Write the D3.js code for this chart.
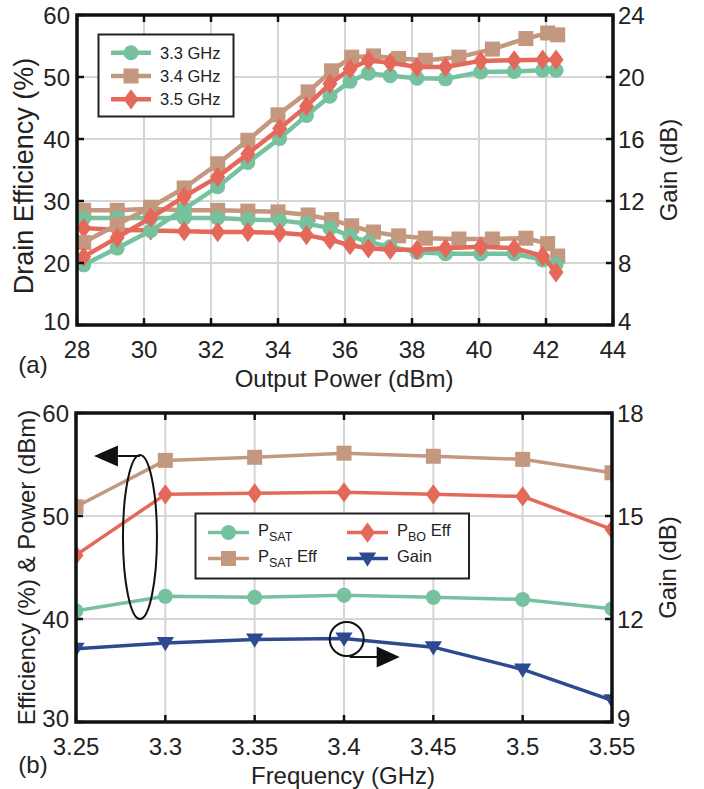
<!DOCTYPE html>
<html>
<head>
<meta charset="utf-8">
<script src="https://cdn.jsdelivr.net/npm/d3@7"></script>
<style>
  body { margin: 0; background: #fff; }
  svg { font-family: "Liberation Sans", Arial, sans-serif; }
</style>
</head>
<body>
<div id="viz"></div>
<script>
const width = 704;
const height = 789;

// ---- panel (a): efficiency and gain vs output power ----
const pout33 = [28.2, 29.2, 30.2, 31.2, 32.2, 33.1, 34.05, 34.85, 35.55, 36.15, 36.7, 37.35, 38.15, 39.0, 40.05, 41.05, 41.9, 42.3];
const pout34 = [28.2, 29.2, 30.2, 31.2, 32.2, 33.1, 34.0, 34.9, 35.6, 36.2, 36.85, 37.6, 38.4, 39.4, 40.4, 41.4, 42.05, 42.35];
const pout35 = pout33;
const eff33 = [19.7, 22.4, 25.2, 28.7, 32.3, 36.2, 40.1, 43.8, 46.9, 49.3, 50.6, 50.2, 49.8, 49.7, 50.8, 50.9, 51.1, 51.1];
const eff34 = [23.3, 26.2, 29.0, 32.1, 36.0, 39.8, 43.9, 47.6, 51.0, 53.2, 53.4, 53.0, 52.7, 53.2, 54.5, 56.2, 57.1, 56.8];
const eff35 = [21.0, 24.1, 27.3, 30.7, 33.9, 37.6, 41.7, 45.3, 48.9, 51.3, 52.7, 52.3, 51.6, 51.6, 52.6, 52.7, 52.8, 52.8];
const gain33 = [10.9, 10.9, 10.9, 10.9, 10.9, 10.8, 10.75, 10.55, 10.25, 9.75, 9.35, 9.05, 8.7, 8.6, 8.6, 8.6, 8.2, 7.9];
const gain34 = [11.4, 11.4, 11.5, 11.4, 11.4, 11.35, 11.3, 11.1, 10.8, 10.4, 10.0, 9.75, 9.6, 9.55, 9.55, 9.6, 9.25, 8.45];
const gain35 = [10.25, 10.15, 10.1, 10.05, 10.0, 10.0, 9.95, 9.8, 9.5, 9.15, 8.95, 8.85, 8.85, 8.95, 9.05, 8.95, 8.45, 7.4];
const xTicksA = [28, 30, 32, 34, 36, 38, 40, 42, 44];
const yTicksA = [10, 20, 30, 40, 50, 60];
const gTicksA = [4, 8, 12, 16, 20, 24];

// ---- panel (b): vs frequency ----
const freq = [3.25, 3.3, 3.35, 3.4, 3.45, 3.5, 3.55];
const psat = [40.8, 42.2, 42.1, 42.3, 42.1, 41.9, 41.0];
const psatEff = [50.9, 55.4, 55.7, 56.1, 55.8, 55.5, 54.2];
const pboEff = [46.2, 52.1, 52.2, 52.3, 52.1, 51.9, 48.7];
const gainB = [11.13, 11.3, 11.4, 11.43, 11.18, 10.53, 9.63];
const xTicksB = [3.25, 3.3, 3.35, 3.4, 3.45, 3.5, 3.55];
const yTicksB = [30, 40, 50, 60];
const gTicksB = [9, 12, 15, 18];

const colors = { green: '#76c19e', brown: '#c4977f', red: '#e4695a', blue: '#2e4a8e' };

const svg = d3.select('#viz').append('svg')
  .attr('width', width).attr('height', height);

// marker shapes drawn around a pixel position
const marker = (g, shape, x, y, color, s) => {
  if (shape === 'circle') {
    g.append('circle').attr('cx', x).attr('cy', y).attr('r', s).attr('fill', color);
  } else if (shape === 'square') {
    g.append('rect').attr('x', x - s).attr('y', y - s).attr('width', 2 * s).attr('height', 2 * s).attr('fill', color);
  } else if (shape === 'diamond') {
    g.append('path').attr('d', `M${x},${y - s * 1.35}L${x + s},${y}L${x},${y + s * 1.35}L${x - s},${y}Z`).attr('fill', color);
  } else if (shape === 'triangle') {
    g.append('path').attr('d', `M${x - s * 1.15},${y - s * 0.8}L${x + s * 1.15},${y - s * 0.8}L${x},${y + s * 1.1}Z`).attr('fill', color);
  }
};

const drawPanel = (cfg) => {
  const { left, right, top, bottom } = cfg.box;
  const x = d3.scaleLinear().domain(cfg.xDomain).range([left, right]);
  const y = d3.scaleLinear().domain(cfg.yDomain).range([bottom, top]);
  const y2 = d3.scaleLinear().domain(cfg.gDomain).range([bottom, top]);

  const g = svg.append('g');
  const clipId = 'clip-' + cfg.name;
  g.append('clipPath').attr('id', clipId)
    .append('rect').attr('x', left).attr('y', top).attr('width', right - left).attr('height', bottom - top);

  // grid
  g.append('g').selectAll('line').data(cfg.xTicks.slice(1, -1)).join('line')
    .attr('x1', d => x(d)).attr('x2', d => x(d)).attr('y1', top).attr('y2', bottom)
    .attr('stroke', '#d6d6d6').attr('stroke-width', 2);
  g.append('g').selectAll('line').data(cfg.yTicks.slice(1, -1)).join('line')
    .attr('y1', d => y(d)).attr('y2', d => y(d)).attr('x1', left).attr('x2', right)
    .attr('stroke', '#d6d6d6').attr('stroke-width', 2);

  // series
  const plot = g.append('g').attr('clip-path', `url(#${clipId})`);
  cfg.series.forEach(s => {
    const sc = s.axis === 'right' ? y2 : y;
    const pts = s.xs.map((v, i) => [x(v), sc(s.ys[i])]);
    plot.append('path').attr('d', d3.line()(pts))
      .attr('fill', 'none').attr('stroke', s.color).attr('stroke-width', cfg.lineWidth)
      .attr('stroke-linejoin', 'round');
    const mg = plot.append('g');
    pts.forEach(p => marker(mg, s.shape, p[0], p[1], s.color, cfg.markerSize));
  });

  // frame with inward ticks
  const tick = 7;
  const fr = g.append('g').attr('stroke', '#111').attr('stroke-width', 2.5);
  cfg.xTicks.forEach(t => {
    fr.append('line').attr('x1', x(t)).attr('x2', x(t)).attr('y1', bottom).attr('y2', bottom - tick);
    fr.append('line').attr('x1', x(t)).attr('x2', x(t)).attr('y1', top).attr('y2', top + tick);
  });
  cfg.yTicks.forEach(t => {
    fr.append('line').attr('x1', left).attr('x2', left + tick).attr('y1', y(t)).attr('y2', y(t));
  });
  cfg.gTicks.forEach(t => {
    fr.append('line').attr('x1', right).attr('x2', right - tick).attr('y1', y2(t)).attr('y2', y2(t));
  });
  g.append('rect').attr('x', left).attr('y', top).attr('width', right - left).attr('height', bottom - top)
    .attr('fill', 'none').attr('stroke', '#111').attr('stroke-width', 3.5);

  // tick labels (lowest y labels lifted a little so they clear the x labels)
  const fs = 24;
  g.append('g').selectAll('text').data(cfg.xTicks).join('text')
    .attr('x', d => x(d)).attr('y', bottom + 24)
    .attr('text-anchor', 'middle').attr('dominant-baseline', 'central')
    .attr('font-size', fs).attr('fill', '#222').text(cfg.xFormat);
  g.append('g').selectAll('text').data(cfg.yTicks).join('text')
    .attr('x', left - 7).attr('y', (d, i) => y(d) - (i === 0 ? 4 : 0))
    .attr('text-anchor', 'end').attr('dominant-baseline', 'central')
    .attr('font-size', fs).attr('fill', '#222').text(d => d);
  g.append('g').selectAll('text').data(cfg.gTicks).join('text')
    .attr('x', right + 5).attr('y', (d, i) => y2(d) - (i === 0 ? 4 : 0))
    .attr('text-anchor', 'start').attr('dominant-baseline', 'central')
    .attr('font-size', fs).attr('fill', '#222').text(d => d);

  // axis titles
  g.append('text').attr('x', (left + right) / 2 - 1).attr('y', bottom + 53)
    .attr('text-anchor', 'middle').attr('dominant-baseline', 'central')
    .attr('font-size', 24).attr('fill', '#222').text(cfg.xLabel);
  g.append('text').attr('transform', `translate(${cfg.yLabelX},${(top + bottom) / 2 + cfg.yLabelDy}) rotate(-90)`)
    .attr('text-anchor', 'middle').attr('dominant-baseline', 'central')
    .attr('font-size', cfg.yLabelSize).attr('fill', '#222').text(cfg.yLabel);
  g.append('text').attr('transform', `translate(${right + 55},${(top + bottom) / 2})  rotate(-90)`)
    .attr('text-anchor', 'middle').attr('dominant-baseline', 'central')
    .attr('font-size', 24).attr('fill', '#222').text('Gain (dB)');
  g.append('text').attr('x', 33).attr('y', bottom + cfg.tagDy)
    .attr('text-anchor', 'middle').attr('dominant-baseline', 'central')
    .attr('font-size', 24).attr('fill', '#222').text(cfg.tag);

  return { x, y, y2, g };
};

// panel (a)
const pa = drawPanel({
  name: 'a',
  box: { left: 77, right: 613, top: 15, bottom: 325 },
  xDomain: [28, 44], yDomain: [10, 60], gDomain: [4, 24],
  xTicks: xTicksA, yTicks: yTicksA, gTicks: gTicksA,
  xFormat: d => d,
  xLabel: 'Output Power (dBm)', yLabel: 'Drain Efficiency (%)', yLabelX: 24, yLabelDy: 6, yLabelSize: 27,
  tag: '(a)', tagDy: 39,
  lineWidth: 4.5, markerSize: 7.5,
  series: [
    { xs: pout34, ys: gain34, axis: 'right', color: colors.brown, shape: 'square' },
    { xs: pout33, ys: gain33, axis: 'right', color: colors.green, shape: 'circle' },
    { xs: pout35, ys: gain35, axis: 'right', color: colors.red, shape: 'diamond' },
    { xs: pout33, ys: eff33, axis: 'left', color: colors.green, shape: 'circle' },
    { xs: pout34, ys: eff34, axis: 'left', color: colors.brown, shape: 'square' },
    { xs: pout35, ys: eff35, axis: 'left', color: colors.red, shape: 'diamond' }
  ]
});

// legend (a)
const legA = [
  { label: '3.3 GHz', color: colors.green, shape: 'circle' },
  { label: '3.4 GHz', color: colors.brown, shape: 'square' },
  { label: '3.5 GHz', color: colors.red, shape: 'diamond' }
];
const la = svg.append('g');
la.append('rect').attr('x', 98.5).attr('y', 34.5).attr('width', 135).attr('height', 82)
  .attr('fill', '#fff').attr('stroke', '#222').attr('stroke-width', 2);
legA.forEach((d, i) => {
  const cy = 52.7 + i * 23.3;
  la.append('line').attr('x1', 111).attr('x2', 151).attr('y1', cy).attr('y2', cy)
    .attr('stroke', d.color).attr('stroke-width', 4.5);
  marker(la, d.shape, 131, cy, d.color, 7.5);
  la.append('text').attr('x', 160).attr('y', cy).attr('dominant-baseline', 'central')
    .attr('font-size', 16.5).attr('fill', '#222').text(d.label);
});

// panel (b)
const pb = drawPanel({
  name: 'b',
  box: { left: 76, right: 612, top: 413, bottom: 722 },
  xDomain: [3.25, 3.55], yDomain: [30, 60], gDomain: [9, 18],
  xTicks: xTicksB, yTicks: yTicksB, gTicks: gTicksB,
  xFormat: d => String(d),
  xLabel: 'Frequency (GHz)', yLabel: 'Efficiency (%) & Power (dBm)', yLabelX: 26, yLabelDy: 0, yLabelSize: 24,
  tag: '(b)', tagDy: 42,
  lineWidth: 3.5, markerSize: 7.5,
  series: [
    { xs: freq, ys: psat, axis: 'left', color: colors.green, shape: 'circle' },
    { xs: freq, ys: psatEff, axis: 'left', color: colors.brown, shape: 'square' },
    { xs: freq, ys: pboEff, axis: 'left', color: colors.red, shape: 'diamond' },
    { xs: freq, ys: gainB, axis: 'right', color: colors.blue, shape: 'triangle' }
  ]
});

// annotations (b): ellipse + arrow to left axis, circle + arrow to right axis
const ann = svg.append('g').attr('fill', 'none').attr('stroke', '#111').attr('stroke-width', 2);
const ex = pb.x(3.2858), ey = pb.y(47.96);
ann.append('ellipse').attr('cx', ex).attr('cy', ey).attr('rx', 17).attr('ry', 82);
ann.append('line').attr('x1', ex).attr('x2', ex - 30).attr('y1', ey - 81).attr('y2', ey - 81);
svg.append('path').attr('d', `M${ex - 46},${ey - 81}L${ex - 22},${ey - 91.5}L${ex - 22},${ey - 70.5}Z`).attr('fill', '#111');
const cx = pb.x(3.4015), cy = pb.y(38.06);
ann.append('circle').attr('cx', cx).attr('cy', cy).attr('r', 17);
ann.append('line').attr('x1', cx + 3).attr('x2', cx + 33).attr('y1', cy + 18).attr('y2', cy + 18);
svg.append('path').attr('d', `M${cx + 53},${cy + 18}L${cx + 30},${cy + 7.5}L${cx + 30},${cy + 28.5}Z`).attr('fill', '#111');

// legend (b)
const legB = [
  { main: 'P', sub: 'SAT', rest: '', color: colors.green, shape: 'circle', col: 0, row: 0 },
  { main: 'P', sub: 'SAT', rest: ' Eff', color: colors.brown, shape: 'square', col: 0, row: 1 },
  { main: 'P', sub: 'BO', rest: ' Eff', color: colors.red, shape: 'diamond', col: 1, row: 0 },
  { main: 'Gain', sub: '', rest: '', color: colors.blue, shape: 'triangle', col: 1, row: 1 }
];
const lb = svg.append('g');
lb.append('rect').attr('x', 195.5).attr('y', 513.5).attr('width', 273.5).attr('height', 65)
  .attr('fill', '#fff').attr('stroke', '#222').attr('stroke-width', 2);
legB.forEach(d => {
  const x0 = d.col === 0 ? 208 : 347;
  const cy = 532.5 + d.row * 26;
  lb.append('line').attr('x1', x0).attr('x2', x0 + 41).attr('y1', cy).attr('y2', cy)
    .attr('stroke', d.color).attr('stroke-width', 3.5);
  marker(lb, d.shape, x0 + 20.5, cy, d.color, 7.5);
  const t = lb.append('text').attr('x', x0 + 50).attr('y', cy - 3).attr('dominant-baseline', 'central')
    .attr('font-size', 16.5).attr('fill', '#222');
  t.append('tspan').text(d.main);
  if (d.sub) t.append('tspan').attr('font-size', 12.5).attr('dy', 7).text(d.sub);
  if (d.rest) t.append('tspan').attr('dy', -7).text(d.rest);
});
</script>
</body>
</html>
